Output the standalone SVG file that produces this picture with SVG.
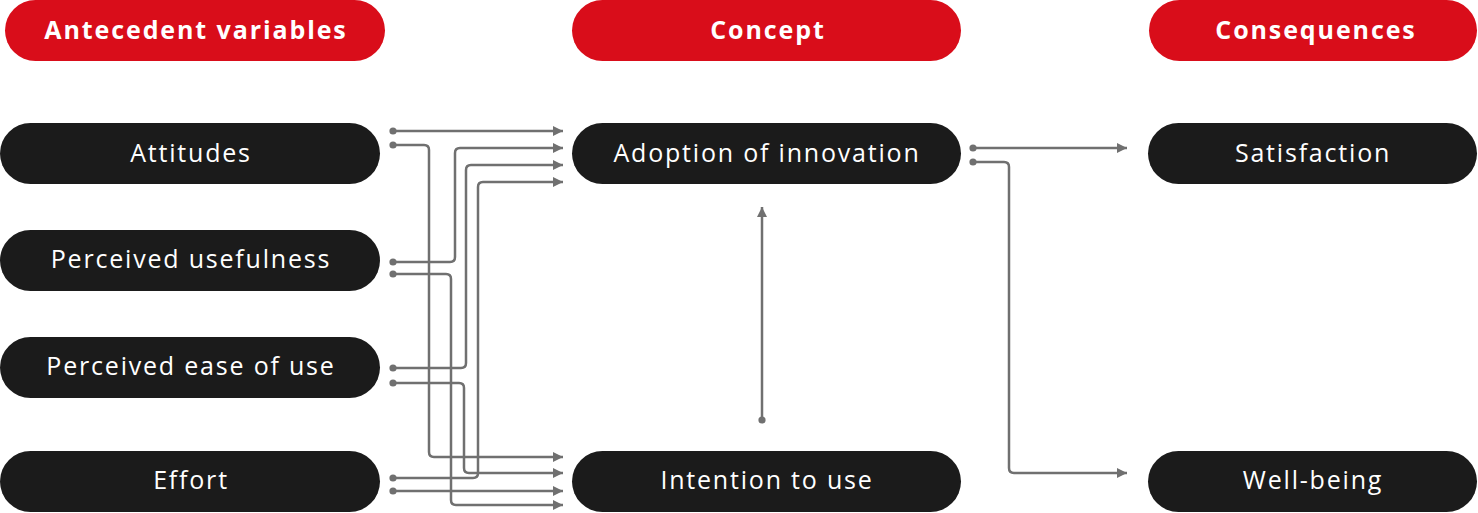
<svg xmlns="http://www.w3.org/2000/svg" width="1478" height="513" viewBox="0 0 1478 513">
<style>
.hdr{fill:#d90d1a}
.node{fill:#1b1b1b}
.ht{font-family:"Open Sans","Liberation Sans",sans-serif;font-weight:700;font-size:25px;letter-spacing:1.9px;fill:#fff;text-anchor:middle}
.nt{font-family:"Open Sans","Liberation Sans",sans-serif;font-size:25px;letter-spacing:1.8px;fill:#fff;text-anchor:middle}
.c{fill:none;stroke:#707070;stroke-width:2.5;marker-start:url(#dot);marker-end:url(#arr)}
</style>
<defs>
<marker id="arr" viewBox="0 0 10 10" refX="10" refY="5" markerWidth="10" markerHeight="10" markerUnits="userSpaceOnUse" orient="auto"><path d="M0 0L10 5L0 10z" fill="#707070"/></marker>
<marker id="dot" viewBox="0 0 8 8" refX="4" refY="4" markerWidth="8" markerHeight="8" markerUnits="userSpaceOnUse"><circle cx="4" cy="4" r="3.6" fill="#707070"/></marker>
</defs>
<g id="h-antecedent"><rect class="hdr" x="5" y="0" width="380" height="61" rx="30.5"/><text class="ht" x="196" y="39">Antecedent variables</text></g>
<g id="h-concept"><rect class="hdr" x="572" y="0" width="389" height="61" rx="30.5"/><text class="ht" x="768" y="39">Concept</text></g>
<g id="h-consequences"><rect class="hdr" x="1149" y="0" width="328" height="61" rx="30.5"/><text class="ht" x="1316" y="39">Consequences</text></g>
<g id="attitudes"><rect class="node" x="0" y="123" width="380" height="61" rx="30.5"/><text class="nt" x="191" y="162">Attitudes</text></g>
<g id="usefulness"><rect class="node" x="0" y="230" width="380" height="61" rx="30.5"/><text class="nt" x="191" y="268">Perceived usefulness</text></g>
<g id="ease"><rect class="node" x="0" y="337" width="380" height="61" rx="30.5"/><text class="nt" x="191" y="375">Perceived ease of use</text></g>
<g id="effort"><rect class="node" x="0" y="451" width="380" height="61" rx="30.5"/><text class="nt" x="191" y="489">Effort</text></g>
<g id="adoption"><rect class="node" x="572" y="123" width="389" height="61" rx="30.5"/><text class="nt" x="767" y="162">Adoption of innovation</text></g>
<g id="intention"><rect class="node" x="572" y="451" width="389" height="61" rx="30.5"/><text class="nt" x="767" y="489">Intention to use</text></g>
<g id="satisfaction"><rect class="node" x="1148" y="123" width="329" height="61" rx="30.5"/><text class="nt" x="1313" y="162">Satisfaction</text></g>
<g id="wellbeing"><rect class="node" x="1148" y="451" width="329" height="61" rx="30.5"/><text class="nt" x="1313" y="489">Well-being</text></g>
<g id="connectors">
<path class="c" d="M393 131H563"/>
<path class="c" d="M393 145H424Q429 145 429 150V452Q429 457 434 457H563"/>
<path class="c" d="M393 262H450Q455 262 455 257V153Q455 148 460 148H563"/>
<path class="c" d="M393 274H446Q451 274 451 279V500Q451 505 456 505H563"/>
<path class="c" d="M393 368H461Q466 368 466 363V170Q466 165 471 165H563"/>
<path class="c" d="M393 383H459Q464 383 464 388V468Q464 473 469 473H563"/>
<path class="c" d="M393 478H473Q478 478 478 473V187Q478 182 483 182H563"/>
<path class="c" d="M393 491H563"/>
<path class="c" d="M973 148H1127"/>
<path class="c" d="M973 162H1004Q1009 162 1009 167V468Q1009 473 1014 473H1127"/>
<path class="c" d="M762 420V207"/>
</g>
</svg>
